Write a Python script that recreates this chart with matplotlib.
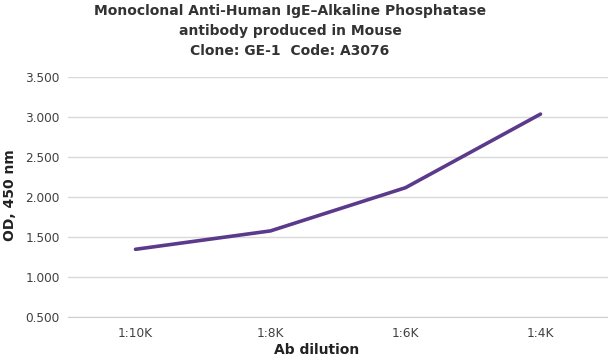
import matplotlib
matplotlib.use("Agg")
import matplotlib.pyplot as plt
from matplotlib.ticker import FuncFormatter

dilutions = ["1:10K", "1:8K", "1:6K", "1:4K"]
od_values = [1.35, 1.58, 2.12, 3.04]
y_ticks = [0.5, 1.0, 1.5, 2.0, 2.5, 3.0, 3.5]

title = ("Monoclonal Anti-Human IgE\u2013Alkaline Phosphatase\n"
         "antibody produced in Mouse\n"
         "Clone: GE-1  Code: A3076")

plt.rcParams["font.family"] = ["DejaVu Sans"]

fig = plt.figure(figsize=(6.08, 3.6), dpi=100)
ax = fig.add_axes([68 / 608, 1 - 317.3 / 360, 1 - 68 / 608, (317.3 - 77.3) / 360])

x = range(len(dilutions))
ax.plot(x, od_values, color="#5b3a8c", lw=2.6, solid_capstyle="round")

ax.set_xlim(-0.5, len(dilutions) - 0.5)
ax.set_ylim(0.5, 3.5)
ax.set_yticks(y_ticks)
ax.yaxis.set_major_formatter(FuncFormatter(lambda v, p: f"{v:.3f}"))
ax.set_xticks(list(x))
ax.set_xticklabels(dilutions)
ax.grid(axis="y", color="#d9d9d9", lw=1)
ax.set_axisbelow(True)
for s in ["top", "right", "left"]:
    ax.spines[s].set_visible(False)
ax.spines["bottom"].set_color("#d0d0d0")
ax.tick_params(axis="both", length=0, labelsize=8.7, labelcolor="#404040")
ax.tick_params(axis="x", pad=7)
ax.tick_params(axis="y", pad=6)

fig.text(290 / 608, 1 - 3.5 / 360, title, ha="center", va="top", fontsize=10,
         fontweight="bold", color="#333333", linespacing=1.55)
fig.text(317 / 608, 1 - 350 / 360, "Ab dilution", ha="center", va="center",
         fontsize=10, fontweight="bold", color="#222222")
fig.text(10 / 608, 1 - 195 / 360, "OD, 450 nm", ha="center", va="center",
         rotation=90, fontsize=10, fontweight="bold", color="#222222")

fig.savefig("out.png", dpi=100)
